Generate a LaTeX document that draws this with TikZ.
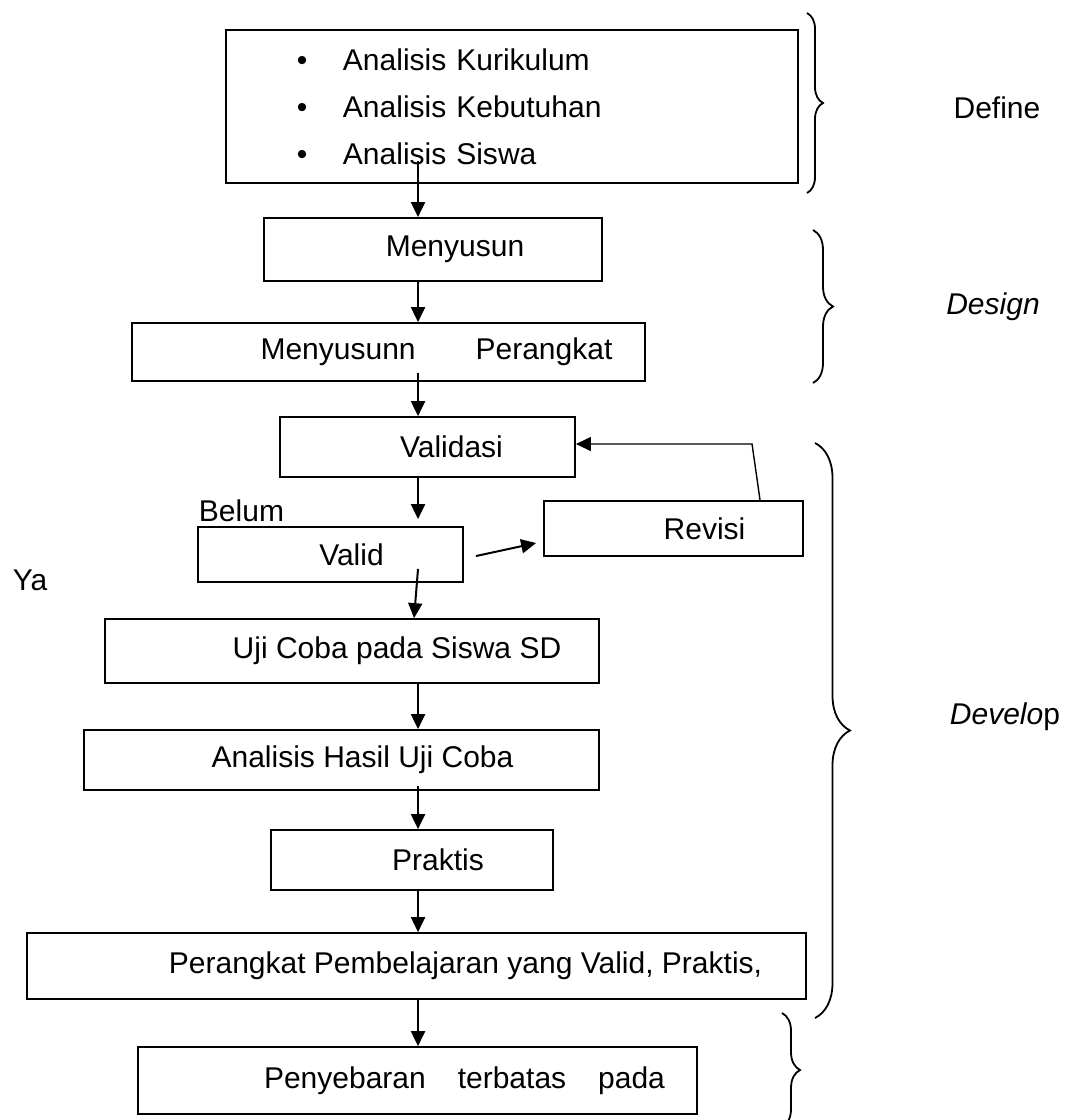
\documentclass[tikz,border=0pt]{standalone}
\usepackage{fontspec}
\setmainfont{Liberation Sans}
\usetikzlibrary{arrows.meta,calc,decorations.pathreplacing}
\begin{document}
\begin{tikzpicture}[scale=0.1757]
\tikzstyle{every node}+=[font=\fontsize{15}{23.5}\selectfont]
\tikzstyle{box}=[draw=black, line width=0.9pt, inner sep=0pt]
\tikzstyle{flow}=[black, line width=1pt, -{Triangle[length=7.5pt,width=7pt]}]
\tikzstyle{phase}=[black, line width=0.9pt, decorate]
\useasboundingbox (0,0) rectangle (106.8,-112);
\draw (51.2,-10.65) node (define) [box, minimum width=286pt, minimum height=76.5pt, text width=215pt, align=left] {\makebox[23pt][l]{\textbullet}Analisis Kurikulum\\
\makebox[23pt][l]{\textbullet}Analisis Kebutuhan\\
\makebox[23pt][l]{\textbullet}Analisis Siswa};
\draw (43.3,-24.95) node (menyusun) [box, minimum width=169pt, minimum height=31.5pt] {\hspace*{22pt}Menyusun};
\draw (38.85,-35.2) node (menyusunn) [box, minimum width=256.5pt, minimum height=29pt] {\hspace*{48pt}Menyusunn\hspace{30pt}Perangkat};
\draw (42.75,-44.7) node (validasi) [box, minimum width=147.5pt, minimum height=30pt] {\hspace*{24pt}Validasi};
\draw (67.35,-52.85) node (revisi) [box, minimum width=129.5pt, minimum height=27.5pt] {\hspace*{31pt}Revisi};
\draw (33.05,-55.45) node (valid) [box, minimum width=132.5pt, minimum height=27.5pt] {\hspace*{21pt}Valid};
\draw (35.2,-65.1) node (uji) [box, minimum width=247pt, minimum height=32pt] {\hspace*{45pt}Uji Coba pada Siswa SD};
\draw (34.15,-76.0) node (analisis) [box, minimum width=257.5pt, minimum height=30pt] {\hspace*{21pt}Analisis Hasil Uji Coba};
\draw (41.2,-86.0) node (praktis) [box, minimum width=141pt, minimum height=30pt] {\hspace*{26pt}Praktis};
\draw (41.65,-96.6) node (perangkat) [box, minimum width=389.5pt, minimum height=33pt] {\hspace*{49pt}Perangkat Pembelajaran yang Valid, Praktis,};
\draw (41.75,-108.05) node (penyebaran) [box, minimum width=279.5pt, minimum height=33.5pt] {\hspace*{47pt}Penyebaran\hspace{16pt}terbatas\hspace{16pt}pada};
\draw (24.15,-51.1) node (belum) {Belum};
\draw (3.0,-58.0) node (ya) {Ya};
% phases
\draw (99.7,-10.8) node (tdefine) {Define};
\draw (99.3,-30.7) node (tdesign) {\textit{Design}};
\draw (100.5,-71.7) node (tdevelop) {\textit{Develo}p};
\draw [phase, decoration={brace, amplitude=8pt}] (80.7,-1.3) -- (80.7,-19.3);
\draw [phase, decoration={brace, amplitude=10pt}] (81.3,-23.0) -- (81.3,-38.3);
\draw [phase, decoration={brace, amplitude=17.5pt}] (81.5,-44.3) -- (81.5,-101.8);
\draw [phase, decoration={brace, amplitude=9pt}] (78.2,-101.3) -- (78.2,-112.7);
% arrows
\coordinate (col) at (41.8,0);
\draw [flow] ($(define.south -| col)+(0,2.3)$) -- (menyusun.north -| col);
\draw [flow] (menyusun.south -| col) -- (menyusunn.north -| col);
\draw [flow] ($(menyusunn.south -| col)+(0,0.9)$) -- (validasi.north -| col);
\draw [flow, shorten >=3.5pt] (validasi.south -| col) -- (valid.north -| col);
\draw [flow] ($(valid.south -| col)+(0,1.4)$) -- ($(uji.north -| col)+(-0.4,0)$);
\draw [flow] (uji.south -| col) -- (analisis.north -| col);
\draw [flow] ($(analisis.south -| col)+(0,0.5)$) -- (praktis.north -| col);
\draw [flow] (praktis.south -| col) -- (perangkat.north -| col);
\draw [flow] (perangkat.south -| col) -- (penyebaran.north -| col);
\draw [flow] ($(valid.east)+(1.2,-0.15)$) -- ($(revisi.west)+(-0.7,-1.45)$);
\coordinate (fb) at (75.2,-44.4);
\draw [flow, line width=0.7pt] ($(revisi.north)+(8.65,0)$) -- (fb) -- (validasi.east |- fb);
\end{tikzpicture}
\end{document}
